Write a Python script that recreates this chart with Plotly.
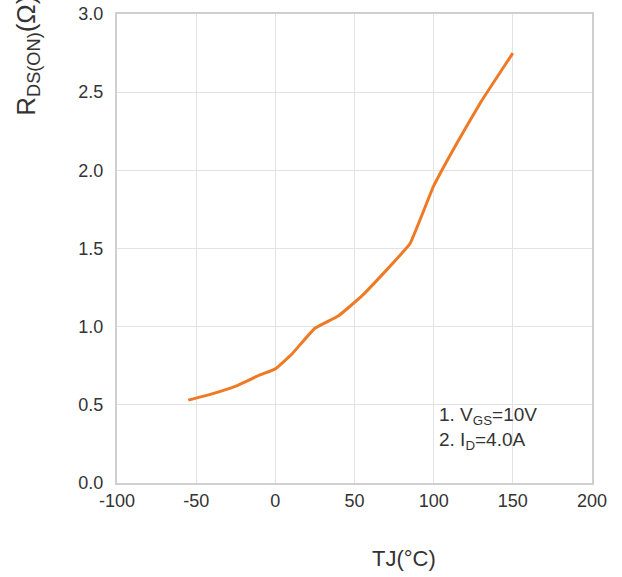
import plotly.graph_objects as go

temps = [-55, -40, -25, -10, 0, 10, 25, 40, 55, 70, 85, 100, 115, 130, 150]
rds_on = [0.53, 0.57, 0.62, 0.69, 0.73, 0.82, 0.99, 1.07, 1.20, 1.36, 1.53, 1.90, 2.18, 2.44, 2.75]

x_ticks = [-100, -50, 0, 50, 100, 150, 200]
y_ticks = [0.0, 0.5, 1.0, 1.5, 2.0, 2.5, 3.0]

font_family = "Liberation Sans, Arial, sans-serif"

fig = go.Figure()
fig.add_trace(go.Scatter(
    x=temps, y=rds_on, mode="lines",
    line=dict(color="#EE7A26", width=3, shape="spline", smoothing=0.3),
    showlegend=False, hoverinfo="skip",
))

fig.update_layout(
    width=622, height=577,
    margin=dict(l=117, r=30, t=14, b=94, autoexpand=False),
    paper_bgcolor="white", plot_bgcolor="white",
    font=dict(family=font_family, color="#333333", size=18),
    xaxis=dict(
        range=[-100, 200], tickvals=x_ticks, ticktext=[str(v) for v in x_ticks],
        showgrid=True, gridcolor="#E3E3E3", gridwidth=1,
        showline=True, linecolor="#CFCFCF", linewidth=2, mirror=True,
        zeroline=False, ticks="", tickfont=dict(size=18, color="#333333"),
    ),
    yaxis=dict(
        range=[0, 3], tickvals=y_ticks, ticktext=[f"{v:.1f}" for v in y_ticks],
        showgrid=True, gridcolor="#E3E3E3", gridwidth=1,
        showline=True, linecolor="#CFCFCF", linewidth=2, mirror=True,
        zeroline=False, ticks="", ticklabelstandoff=8,
        tickfont=dict(size=18, color="#333333"),
    ),
    annotations=[
        dict(text="R<sub>DS(ON)</sub>(Ω)", textangle=-90, xref="paper", yref="paper",
             x=-0.19, y=(483 - 118) / 469, xanchor="center", yanchor="bottom",
             showarrow=False, font=dict(size=26, color="#333333")),
        dict(text="TJ(°C)", xref="paper", yref="paper",
             x=(404 - 117) / 475, y=-(558 - 483) / 469, xanchor="center", yanchor="middle",
             showarrow=False, font=dict(size=22, color="#333333")),
        dict(text="1. V<sub>GS</sub>=10V<br>2. I<sub>D</sub>=4.0A", align="left",
             xref="paper", yref="paper",
             x=(437 - 117) / 475, y=(483 - 428) / 469, xanchor="left", yanchor="middle",
             showarrow=False, font=dict(size=19, color="#333333")),
    ],
)

fig.write_html("out.html")
